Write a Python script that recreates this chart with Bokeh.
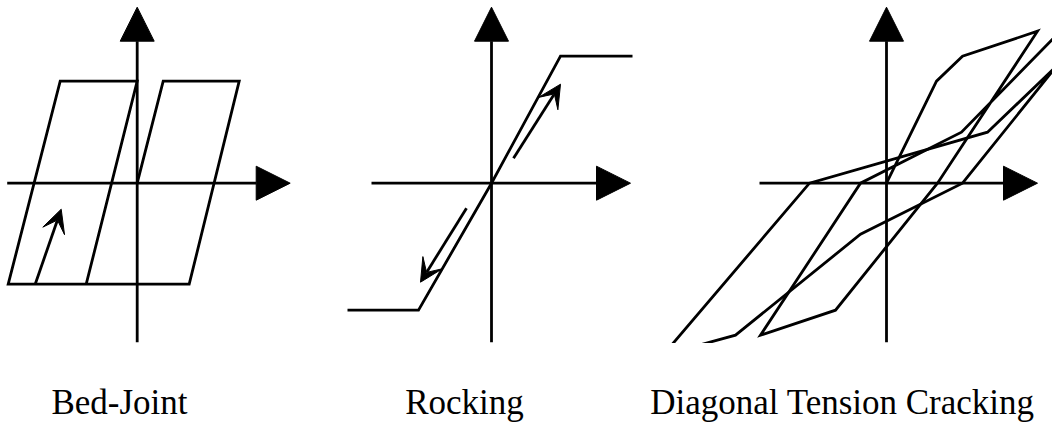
from bokeh.plotting import figure
from bokeh.layouts import column, row
from bokeh.models import Arrow, NormalHead, VeeHead, Range1d
from bokeh.core.properties import value
from bokeh.embed import file_html
from bokeh.resources import INLINE

# ---------------- data (displacement d, force f; arbitrary units) ----------------
titles = ["Bed-Joint", "Rocking", "Diagonal Tension Cracking"]

# Panel 1: bed-joint sliding hysteresis
bj_d = [-0.51, 0.00, -0.77, -1.29, 0.52, 1.02, 0.26, 0.00]
bj_f = [-1.01, 1.02, 1.02, -1.01, -1.01, 1.02, 1.02, 0.00]
bj_arrow = [(-1.02, -1.01), (-0.76, -0.26)]

# Panel 2: rocking (bilinear elastic)
rk_d = [-1.44, -0.73, 0.00, 0.69, 1.41]
rk_f = [-1.27, -1.27, 0.00, 1.27, 1.27]
rk_arrow_up = [(0.22, 0.25), (0.69, 0.99)]
rk_arrow_dn = [(-0.25, -0.25), (-0.71, -0.99)]

# Panel 3: diagonal tension cracking (pinched degrading loops)
dt_a_d = [0.00, 0.50, 0.76, 1.51, 0.51, -0.51, -1.26, -0.26, 0.75, 1.70]
dt_a_f = [0.00, 1.02, 1.27, 1.52, 0.00, -1.27, -1.52, 0.00, 0.51, 1.48]
dt_b_d = [-2.21, -0.77, 1.01, 1.70, 0.76, -0.26, -1.51, -2.06]
dt_b_f = [-1.69, 0.00, 0.51, 1.17, 0.00, -0.51, -1.52, -1.67]

# axis extents per panel: (d_min, d_max, f_min, f_max)
axes_ext = [(-1.30, 1.53, -1.59, 1.76),
            (-1.20, 1.39, -1.59, 1.76),
            (-1.27, 1.51, -1.59, 1.76)]

# ---------------- layout ----------------
SCALE = 100.0          # px per unit
TOP = 0
H = 343
ORIGIN_Y = 182.7
panel_left = [0, 318, 660]
panel_w = [318, 342, 392]
origin_x = [136.7, 491.0, 886.0]
LW = 2.8


def make_panel(i):
    x0 = (panel_left[i] - origin_x[i]) / SCALE
    x1 = (panel_left[i] + panel_w[i] - origin_x[i]) / SCALE
    y1 = (ORIGIN_Y - TOP) / SCALE
    y0 = (ORIGIN_Y - (TOP + H)) / SCALE
    p = figure(width=panel_w[i], height=H, x_range=Range1d(x0, x1), y_range=Range1d(y0, y1),
               output_backend="svg", toolbar_location=None, x_axis_type=None, y_axis_type=None,
               min_border=0, outline_line_color=None, background_fill_color="white",
               border_fill_color="white")
    dmin, dmax, fmin, fmax = axes_ext[i]
    p.add_layout(Arrow(end=NormalHead(size=34, fill_color="black", line_color="black", line_width=1),
                       x_start=dmin, y_start=0, x_end=dmax, y_end=0,
                       line_color="black", line_width=LW))
    p.add_layout(Arrow(end=NormalHead(size=34, fill_color="black", line_color="black", line_width=1),
                       x_start=0, y_start=fmin, x_end=0, y_end=fmax,
                       line_color="black", line_width=LW))
    return p


def small_arrow(p, a):
    (xs, ys), (xe, ye) = a
    p.add_layout(Arrow(end=VeeHead(size=23, fill_color="black", line_color="black", line_width=1),
                       x_start=xs, y_start=ys, x_end=xe, y_end=ye,
                       line_color="black", line_width=LW))


p1 = make_panel(0)
p1.line(bj_d, bj_f, line_color="black", line_width=LW, line_join="miter")
small_arrow(p1, bj_arrow)

p2 = make_panel(1)
p2.line(rk_d, rk_f, line_color="black", line_width=LW, line_join="miter")
small_arrow(p2, rk_arrow_up)
small_arrow(p2, rk_arrow_dn)

p3 = make_panel(2)
p3.line(dt_a_d, dt_a_f, line_color="black", line_width=LW, line_join="miter")
p3.line(dt_b_d, dt_b_f, line_color="black", line_width=LW, line_join="miter")

# label strip
LH = 85
label_cx = [119, 464, 842]   # page x centres
pl = figure(width=sum(panel_w), height=LH, x_range=Range1d(0, sum(panel_w)),
            y_range=Range1d(TOP + H + LH, TOP + H),
            output_backend="svg", toolbar_location=None, x_axis_type=None, y_axis_type=None,
            min_border=0, outline_line_color=None)
pl.text(x=label_cx, y=[402, 402, 402], text=titles, text_align="center",
        text_baseline="alphabetic", text_font=value("Liberation Serif"),
        text_font_size="35px", text_color="black")

layout = column(row(p1, p2, p3), pl)
open("out.html", "w").write(file_html(layout, INLINE))
